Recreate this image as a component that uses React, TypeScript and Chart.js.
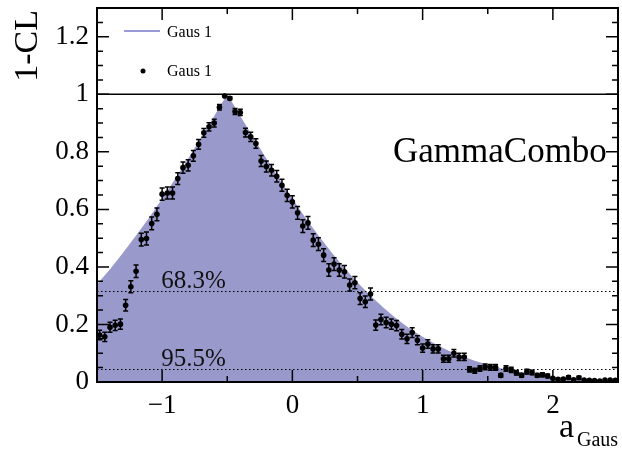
import React, { useEffect, useRef } from 'react';
import { Chart, registerables } from 'chart.js';

Chart.register(...registerables);

const FONT = '"Liberation Serif", "Times New Roman", serif';

// scan points (a_Gaus) and measured 1-CL with uncertainties
const xValues = [
  -1.48, -1.44, -1.40, -1.36, -1.32, -1.28, -1.24, -1.20, -1.16, -1.12,
  -1.08, -1.04, -1.00, -0.96, -0.92, -0.88, -0.84, -0.80, -0.76, -0.72,
  -0.68, -0.64, -0.60, -0.56, -0.52, -0.48, -0.44, -0.40, -0.36, -0.32,
  -0.28, -0.24, -0.20, -0.16, -0.12, -0.08, -0.04, 0.00, 0.04, 0.08,
  0.12, 0.16, 0.20, 0.24, 0.28, 0.32, 0.36, 0.40, 0.44, 0.48,
  0.52, 0.56, 0.60, 0.64, 0.68, 0.72, 0.76, 0.80, 0.84, 0.88,
  0.92, 0.96, 1.00, 1.04, 1.08, 1.12, 1.16, 1.20, 1.24, 1.28,
  1.32, 1.36, 1.40, 1.44, 1.48, 1.52, 1.56, 1.60, 1.64, 1.68,
  1.72, 1.76, 1.80, 1.84, 1.88, 1.92, 1.96, 2.00, 2.04, 2.08,
  2.12, 2.16, 2.20, 2.24, 2.28, 2.32, 2.36, 2.40, 2.44, 2.48,
];

const yValues = [
  0.163, 0.157, 0.190, 0.197, 0.201, 0.267, 0.331, 0.385, 0.495, 0.499,
  0.551, 0.583, 0.653, 0.657, 0.657, 0.707, 0.745, 0.753, 0.786, 0.826,
  0.866, 0.887, 0.900, 0.955, 0.994, 0.986, 0.940, 0.937, 0.867, 0.852,
  0.829, 0.768, 0.749, 0.736, 0.715, 0.684, 0.649, 0.626, 0.588, 0.542,
  0.553, 0.493, 0.479, 0.441, 0.389, 0.410, 0.389, 0.383, 0.337, 0.345,
  0.290, 0.279, 0.306, 0.198, 0.217, 0.207, 0.201, 0.196, 0.166, 0.150,
  0.172, 0.145, 0.118, 0.132, 0.115, 0.115, 0.081, 0.081, 0.100, 0.087,
  0.087, 0.044, 0.039, 0.047, 0.053, 0.051, 0.051, 0.023, 0.047, 0.042,
  0.032, 0.023, 0.036, 0.033, 0.023, 0.025, 0.021, 0.013, 0.009, 0.010,
  0.016, 0.008, 0.015, 0.007, 0.006, 0.005, 0.003, 0.007, 0.007, 0.006,
];

const yErrors = [
  0.0165, 0.0163, 0.0175, 0.0178, 0.0179, 0.0198, 0.0210, 0.0218, 0.0224, 0.0224,
  0.0222, 0.0221, 0.0213, 0.0212, 0.0212, 0.0204, 0.0195, 0.0193, 0.0183, 0.0170,
  0.0152, 0.0142, 0.0134, 0.0093, 0.0035, 0.0053, 0.0106, 0.0109, 0.0152, 0.0159,
  0.0168, 0.0189, 0.0194, 0.0197, 0.0202, 0.0208, 0.0213, 0.0216, 0.0220, 0.0223,
  0.0222, 0.0224, 0.0223, 0.0222, 0.0218, 0.0220, 0.0218, 0.0217, 0.0211, 0.0213,
  0.0203, 0.0201, 0.0206, 0.0178, 0.0184, 0.0181, 0.0179, 0.0178, 0.0166, 0.0160,
  0.0169, 0.0157, 0.0144, 0.0151, 0.0143, 0.0143, 0.0122, 0.0122, 0.0134, 0.0126,
  0.0126, 0.0092, 0.0087, 0.0095, 0.0100, 0.0098, 0.0098, 0.0067, 0.0095, 0.0090,
  0.0079, 0.0067, 0.0083, 0.0080, 0.0067, 0.0070, 0.0064, 0.0051, 0.0042, 0.0044,
  0.0056, 0.0040, 0.0054, 0.0037, 0.0035, 0.0032, 0.0024, 0.0037, 0.0037, 0.0035,
];

// filled 1-CL curve (Gaus 1)
const curveX = [
  -1.5, -1.4, -1.3, -1.2, -1.1, -1.0, -0.9, -0.8, -0.7, -0.6,
  -0.5, -0.4, -0.3, -0.2, -0.1, 0.0, 0.1, 0.2, 0.3, 0.4,
  0.5, 0.6, 0.7, 0.8, 0.9, 1.0, 1.1, 1.2, 1.3, 1.4,
  1.5, 1.6, 1.7, 1.8, 1.9, 2.0, 2.1, 2.2, 2.3, 2.4, 2.5,
];
const curveY = [
  0.340, 0.392, 0.449, 0.509, 0.571, 0.637, 0.706, 0.777, 0.850, 0.925,
  1.000, 0.925, 0.850, 0.777, 0.706, 0.637, 0.571, 0.509, 0.451, 0.396,
  0.346, 0.300, 0.258, 0.220, 0.186, 0.157, 0.131, 0.109, 0.090, 0.074,
  0.060, 0.048, 0.038, 0.030, 0.024, 0.018, 0.014, 0.011, 0.008, 0.006, 0.005,
];

const xTicks = [-1, 0, 1, 2];
const yTicks = [0, 0.2, 0.4, 0.6, 0.8, 1, 1.2];
const clLevels = [0.317, 0.045];
const clLabels = ['68.3%', '95.5%'];
const legendLabels = ['Gaus 1', 'Gaus 1'];
const fillColor = '#9999cc';
const legendLineColor = '#9a9ad8';

const overlay = {
  id: 'overlay',
  afterDatasetDraw(chart: any, args: any) {
    if (args.index !== 0) return;
    const { ctx, chartArea: ca, scales } = chart;
    const x = scales.x;
    const y = scales.y;
    ctx.save();
    ctx.strokeStyle = '#000';
    ctx.lineWidth = 1;
    ctx.setLineDash([1.5, 2.5]);
    clLevels.forEach((l) => {
      const py = Math.round(y.getPixelForValue(l)) + 0.5;
      ctx.beginPath();
      ctx.moveTo(ca.left, py);
      ctx.lineTo(ca.right, py);
      ctx.stroke();
    });
    ctx.setLineDash([]);
    ctx.fillStyle = '#111';
    ctx.font = `25px ${FONT}`;
    ctx.textAlign = 'left';
    ctx.textBaseline = 'alphabetic';
    clLevels.forEach((l, i) => {
      ctx.fillText(clLabels[i], x.getPixelForValue(-1) - 1, y.getPixelForValue(l) - 3);
    });
    ctx.restore();
  },
  afterDatasetsDraw(chart: any) {
    const { ctx, chartArea: ca, scales } = chart;
    const x = scales.x;
    const y = scales.y;
    ctx.save();
    // error bars
    ctx.strokeStyle = '#000';
    ctx.lineWidth = 1.5;
    xValues.forEach((xv, i) => {
      const e = yErrors[i];
      const px = x.getPixelForValue(xv);
      const y1 = y.getPixelForValue(yValues[i] - e);
      const y2 = y.getPixelForValue(yValues[i] + e);
      if (Math.abs(y1 - y2) < 3) return;
      ctx.beginPath();
      ctx.moveTo(px, y1);
      ctx.lineTo(px, y2);
      ctx.moveTo(px - 2.5, y1);
      ctx.lineTo(px + 2.5, y1);
      ctx.moveTo(px - 2.5, y2);
      ctx.lineTo(px + 2.5, y2);
      ctx.stroke();
    });

    // legend separator at 1-CL = 1
    ctx.lineWidth = 1.5;
    const p1 = y.getPixelForValue(1);
    ctx.beginPath();
    ctx.moveTo(ca.left, p1);
    ctx.lineTo(ca.right, p1);
    ctx.stroke();

    // frame
    ctx.lineWidth = 2;
    ctx.strokeRect(ca.left, ca.top, ca.right - ca.left, ca.bottom - ca.top);

    // ticks
    ctx.lineWidth = 1.5;
    ctx.beginPath();
    for (let k = 0; k <= 26; k++) {
      const v = k * 0.05;
      const py = y.getPixelForValue(v);
      const major = k % 4 === 0;
      const len = major ? 12 : 6;
      ctx.moveTo(ca.left, py);
      ctx.lineTo(ca.left + len, py);
      ctx.moveTo(ca.right, py);
      ctx.lineTo(ca.right - len, py);
    }
    for (let k = -2; k <= 4; k++) {
      const v = k * 0.5;
      const px = x.getPixelForValue(v);
      const major = k % 2 === 0;
      const len = major ? 12 : 6;
      ctx.moveTo(px, ca.bottom);
      ctx.lineTo(px, ca.bottom - len);
      ctx.moveTo(px, ca.top);
      ctx.lineTo(px, ca.top + len);
    }
    ctx.stroke();

    // texts
    ctx.fillStyle = '#000';
    ctx.textBaseline = 'alphabetic';
    ctx.font = `35px ${FONT}`;
    ctx.textAlign = 'left';
    ctx.fillText('GammaCombo', 393, 162);

    // y title
    ctx.save();
    ctx.translate(37, 10);
    ctx.rotate(-Math.PI / 2);
    ctx.textAlign = 'right';
    ctx.font = `34px ${FONT}`;
    ctx.fillText('1-CL', 0, 0);
    ctx.restore();

    // x title with subscript
    ctx.textAlign = 'left';
    ctx.font = `34px ${FONT}`;
    ctx.fillText('a', 559, 437);
    ctx.font = `20px ${FONT}`;
    ctx.fillText('Gaus', 577, 446);

    // legend
    ctx.strokeStyle = legendLineColor;
    ctx.lineWidth = 2;
    ctx.beginPath();
    ctx.moveTo(124, 31);
    ctx.lineTo(160, 31);
    ctx.stroke();
    ctx.fillStyle = '#000';
    ctx.beginPath();
    ctx.arc(143, 71, 2.5, 0, Math.PI * 2);
    ctx.fill();
    ctx.font = `16px ${FONT}`;
    ctx.fillText(legendLabels[0], 167, 37);
    ctx.fillText(legendLabels[1], 167, 76);
    ctx.restore();
  },
};

function fmtX(v: number) {
  return v < 0 ? '\u2212' + Math.abs(v) : String(v);
}
function fmtY(v: number) {
  return String(Number(v.toFixed(1)));
}

export default function App() {
  const ref = useRef<HTMLCanvasElement | null>(null);
  useEffect(() => {
    const canvas = ref.current;
    if (!canvas) return;
    const chart = new Chart(canvas, {
      type: 'scatter',
      data: {
        datasets: [
          {
            type: 'line',
            label: 'Gaus 1',
            order: 2,
            data: curveX.map((xv, i) => ({ x: xv, y: curveY[i] })),
            fill: 'origin',
            backgroundColor: fillColor,
            borderWidth: 0,
            borderColor: 'rgba(0,0,0,0)',
            pointRadius: 0,
            tension: 0,
          } as any,
          {
            type: 'scatter',
            label: 'Gaus 1',
            order: 1,
            data: xValues.map((xv, i) => ({ x: xv, y: yValues[i] })),
            backgroundColor: '#000',
            borderColor: '#000',
            borderWidth: 0,
            pointRadius: 2.8,
          },
        ],
      },
      options: {
        animation: false,
        responsive: false,
        devicePixelRatio: 1,
        layout: { padding: { top: 8, right: 1, left: 0, bottom: 0 } },
        plugins: { legend: { display: false }, tooltip: { enabled: false } },
        scales: {
          x: {
            type: 'linear',
            min: -1.5,
            max: 2.5,
            grid: { display: false, drawTicks: false },
            border: { display: false },
            afterBuildTicks: (s: any) => {
              s.ticks = xTicks.map((v) => ({ value: v }));
            },
            afterFit: (s: any) => {
              s.height = 70;
              s.paddingLeft = 0;
              s.paddingRight = 0;
            },
            ticks: {
              padding: 8,
              color: '#000',
              maxRotation: 0,
              autoSkip: false,
              font: { family: FONT, size: 27 },
              callback: (v: any) => fmtX(Number(v)),
            },
          },
          y: {
            type: 'linear',
            min: 0,
            max: 1.3,
            grid: { display: false, drawTicks: false },
            border: { display: false },
            afterBuildTicks: (s: any) => {
              s.ticks = yTicks.map((v) => ({ value: v }));
            },
            afterFit: (s: any) => {
              s.width = 97;
              s.paddingTop = 0;
              s.paddingBottom = 0;
            },
            ticks: {
              padding: 8,
              color: '#000',
              autoSkip: false,
              font: { family: FONT, size: 27 },
              callback: (v: any) => fmtY(Number(v)),
            },
          },
        },
      } as any,
      plugins: [overlay],
    });
    return () => chart.destroy();
  }, []);

  return (
    <div style={{ position: 'fixed', left: 0, top: 0, width: 622, height: 452, background: '#fff' }}>
      <canvas ref={ref} width={622} height={452} style={{ display: 'block' }} />
    </div>
  );
}
